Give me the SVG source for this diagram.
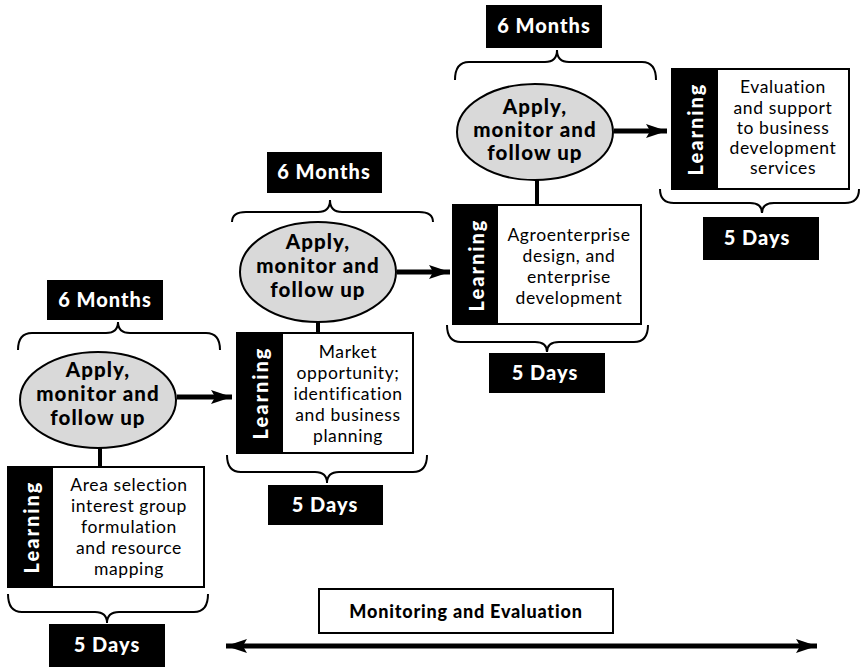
<svg xmlns="http://www.w3.org/2000/svg" width="861" height="667" viewBox="0 0 861 667">
<style>
.lbl{fill:#000}
.lbltx{font-family:Lato,"Open Sans","Liberation Sans",sans-serif;font-weight:900;font-size:20px;letter-spacing:1px;fill:#fff;text-anchor:middle}
.ell{fill:#d9d9d9;stroke:#000;stroke-width:2}
.elltx{font-family:Lato,"Open Sans","Liberation Sans",sans-serif;font-weight:900;font-size:20.5px;letter-spacing:1.1px;fill:#000;text-anchor:middle}
.box{fill:#fff;stroke:#000;stroke-width:2}
.strip{fill:#000}
.stx{font-family:Lato,"Open Sans","Liberation Sans",sans-serif;font-weight:900;font-size:20px;letter-spacing:2px;fill:#fff;text-anchor:middle;dominant-baseline:central}
.btx{font-family:Lato,"Open Sans","Liberation Sans",sans-serif;font-size:17.5px;letter-spacing:0.6px;fill:#000;text-anchor:middle}
.mtx{font-family:Lato,"Open Sans","Liberation Sans",sans-serif;font-weight:900;font-size:18px;letter-spacing:0.8px;fill:#000;text-anchor:middle}
.brace{fill:none;stroke:#000;stroke-width:2}
.conn{stroke:#000;stroke-width:5;fill:none}
.vline{stroke:#000;stroke-width:4}
</style>
<defs>
<marker id="ah" viewBox="0 0 10 10" refX="10" refY="5" markerWidth="4.2" markerHeight="2.8" orient="auto-start-reverse" markerUnits="strokeWidth" preserveAspectRatio="none">
<path d="M0,0 L10,5 L0,10 L2,5 Z" fill="#000"/>
</marker>
</defs>

<g id="connectors">
<line class="conn" x1="177" y1="397" x2="232" y2="397" marker-end="url(#ah)"/>
<line class="conn" x1="397" y1="272" x2="450" y2="272" marker-end="url(#ah)"/>
<line class="conn" x1="614" y1="131" x2="667" y2="131" marker-end="url(#ah)"/>
<line class="vline" x1="100" y1="448" x2="100" y2="467"/>
<line class="vline" x1="318" y1="322" x2="318" y2="333"/>
<line class="vline" x1="537" y1="180" x2="537" y2="205"/>
<line class="conn" x1="226" y1="646" x2="817" y2="646" marker-start="url(#ah)" marker-end="url(#ah)"/>
</g>

<!-- Stage 1 -->
<g id="stage1-months">
<rect class="lbl" x="47" y="280" width="116" height="40"/>
<text class="lbltx" x="105" y="307">6 Months</text>
<path class="brace" d="M18,350 Q18,333 32,333 L106,333 Q118,333 118,322 Q118,333 130,333 L206,333 Q220,333 220,350"/>
</g>
<g id="stage1-apply">
<ellipse class="ell" cx="98" cy="400" rx="78" ry="48"/>
<text class="elltx" x="98" y="377">Apply,</text>
<text class="elltx" x="98" y="401">monitor and</text>
<text class="elltx" x="98" y="425">follow up</text>
</g>
<g id="stage1-learning">
<rect class="box" x="8" y="467" width="196" height="120"/>
<rect class="strip" x="8" y="467" width="45" height="120"/>
<text class="stx" transform="translate(31,527) rotate(-90)">Learning</text>
<text class="btx" x="129" y="491">Area selection</text>
<text class="btx" x="129" y="512">interest group</text>
<text class="btx" x="129" y="533">formulation</text>
<text class="btx" x="129" y="554">and resource</text>
<text class="btx" x="129" y="575">mapping</text>
</g>
<g id="stage1-days">
<path class="brace" d="M8,594 Q8,612 22,612 L95,612 Q107,612 107,623 Q107,612 119,612 L194,612 Q208,612 208,594"/>
<rect class="lbl" x="49" y="624" width="116" height="43"/>
<text class="lbltx" x="107" y="652">5 Days</text>
</g>

<!-- Stage 2 -->
<g id="stage2-months">
<rect class="lbl" x="267" y="152" width="115" height="41"/>
<text class="lbltx" x="324" y="179">6 Months</text>
<path class="brace" d="M232,222 Q232,212 246,212 L318,212 Q330,212 330,200 Q330,212 342,212 L419,212 Q433,212 433,222"/>
</g>
<g id="stage2-apply">
<ellipse class="ell" cx="318" cy="272" rx="78" ry="50"/>
<text class="elltx" x="318" y="249">Apply,</text>
<text class="elltx" x="318" y="273">monitor and</text>
<text class="elltx" x="318" y="297">follow up</text>
</g>
<g id="stage2-learning">
<rect class="box" x="237" y="333" width="176" height="120"/>
<rect class="strip" x="237" y="333" width="46" height="120"/>
<text class="stx" transform="translate(260,393) rotate(-90)">Learning</text>
<text class="btx" x="348" y="358">Market</text>
<text class="btx" x="348" y="379">opportunity;</text>
<text class="btx" x="348" y="400">identification</text>
<text class="btx" x="348" y="421">and business</text>
<text class="btx" x="348" y="442">planning</text>
</g>
<g id="stage2-days">
<path class="brace" d="M227,455 Q227,472 241,472 L315,472 Q327,472 327,483 Q327,472 339,472 L413,472 Q427,472 427,455"/>
<rect class="lbl" x="268" y="485" width="115" height="40"/>
<text class="lbltx" x="325" y="512">5 Days</text>
</g>

<!-- Stage 3 -->
<g id="stage3-months">
<rect class="lbl" x="486" y="5" width="116" height="43"/>
<text class="lbltx" x="544" y="33">6 Months</text>
<path class="brace" d="M455,80 Q455,62 469,62 L545,62 Q557,62 557,50 Q557,62 569,62 L642,62 Q656,62 656,80"/>
</g>
<g id="stage3-apply">
<ellipse class="ell" cx="535" cy="132" rx="78" ry="48"/>
<text class="elltx" x="535" y="114">Apply,</text>
<text class="elltx" x="535" y="137">monitor and</text>
<text class="elltx" x="535" y="160">follow up</text>
</g>
<g id="stage3-learning">
<rect class="box" x="453" y="205" width="188" height="119"/>
<rect class="strip" x="453" y="205" width="45" height="119"/>
<text class="stx" transform="translate(476,265) rotate(-90)">Learning</text>
<text class="btx" x="569" y="241">Agroenterprise</text>
<text class="btx" x="569" y="262">design, and</text>
<text class="btx" x="569" y="283">enterprise</text>
<text class="btx" x="569" y="304">development</text>
</g>
<g id="stage3-days">
<path class="brace" d="M447,325 Q447,342 461,342 L535,342 Q547,342 547,352 Q547,342 559,342 L634,342 Q648,342 648,325"/>
<rect class="lbl" x="489" y="353" width="116" height="40"/>
<text class="lbltx" x="545" y="380">5 Days</text>
</g>

<!-- Stage 4 -->
<g id="stage4-learning">
<rect class="box" x="672" y="69" width="177" height="120"/>
<rect class="strip" x="672" y="69" width="46" height="120"/>
<text class="stx" transform="translate(695,129) rotate(-90)">Learning</text>
<text class="btx" x="783" y="93">Evaluation</text>
<text class="btx" x="783" y="114">and support</text>
<text class="btx" x="783" y="134">to business</text>
<text class="btx" x="783" y="154">development</text>
<text class="btx" x="783" y="174">services</text>
</g>
<g id="stage4-days">
<path class="brace" d="M660,189 Q660,203 674,203 L750,203 Q762,203 762,213 Q762,203 774,203 L845,203 Q859,203 859,189"/>
<rect class="lbl" x="703" y="217" width="116" height="43"/>
<text class="lbltx" x="757" y="245">5 Days</text>
</g>

<g id="monitoring">
<rect class="box" x="319" y="589" width="294" height="44"/>
<text class="mtx" x="466" y="618">Monitoring and Evaluation</text>
</g>
</svg>
